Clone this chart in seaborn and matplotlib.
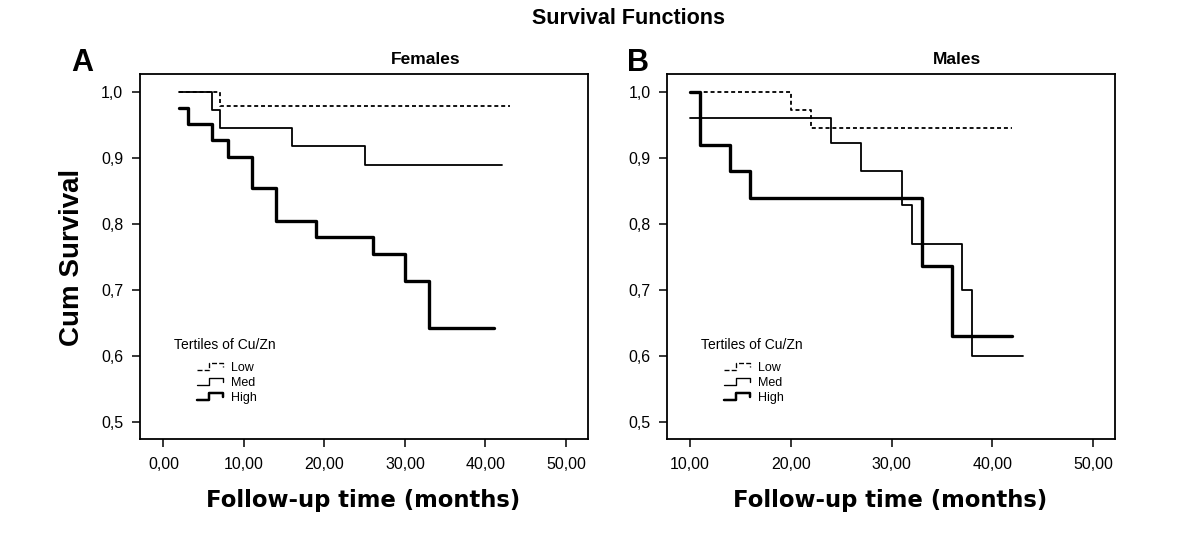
import matplotlib
matplotlib.use("Agg")
import matplotlib.pyplot as plt
import seaborn as sns
import pandas as pd
from matplotlib.lines import Line2D
from matplotlib.legend_handler import HandlerBase

# ---------------- data ----------------
groups = ["Low", "Med", "High"]

f_low_t = [2, 7, 43]
f_low_s = [1.0, 0.979, 0.979]
f_med_t = [2, 6, 7, 16, 25, 42]
f_med_s = [1.0, 0.973, 0.945, 0.918, 0.890, 0.890]
f_high_t = [2, 3, 6, 8, 11, 14, 19, 26, 30, 33, 41]
f_high_s = [0.975, 0.952, 0.927, 0.902, 0.854, 0.805, 0.781, 0.754, 0.713, 0.642, 0.642]

m_low_t = [10, 20, 22, 42]
m_low_s = [1.0, 0.973, 0.945, 0.945]
m_med_t = [10, 24, 27, 31, 32, 37, 38, 43]
m_med_s = [0.96, 0.923, 0.881, 0.829, 0.770, 0.700, 0.600, 0.600]
m_high_t = [10, 11, 14, 16, 33, 36, 42]
m_high_s = [1.0, 0.92, 0.88, 0.84, 0.736, 0.63, 0.63]

f_xticks = [0, 10, 20, 30, 40, 50]
f_xticklabels = ["0,00", "10,00", "20,00", "30,00", "40,00", "50,00"]
m_xticks = [10, 20, 30, 40, 50]
m_xticklabels = ["10,00", "20,00", "30,00", "40,00", "50,00"]
yticks = [0.5, 0.6, 0.7, 0.8, 0.9, 1.0]
yticklabels = ["0,5", "0,6", "0,7", "0,8", "0,9", "1,0"]

# ---------------- style ----------------
sns.set_theme(style="white")
plt.rcParams["font.family"] = ["Liberation Sans", "DejaVu Sans"]
plt.rcParams["text.color"] = "black"
plt.rcParams["axes.labelcolor"] = "black"
plt.rcParams["xtick.color"] = "black"
plt.rcParams["ytick.color"] = "black"
plt.rcParams["legend.labelcolor"] = "black"

styles = {
    "Low": dict(lw=1.3, ls=(0, (2.2, 1.6))),
    "Med": dict(lw=1.3, ls="-"),
    "High": dict(lw=2.4, ls="-"),
}


def make_df(ts, ss, name):
    return pd.DataFrame({"time": ts, "surv": ss, "group": name})


class StepHandler(HandlerBase):
    def create_artists(self, legend, orig_handle, xdescent, ydescent,
                       width, height, fontsize, trans):
        x0 = -xdescent
        y0 = -ydescent
        xs = [x0, x0 + 0.45 * width, x0 + 0.45 * width, x0 + width, x0 + width]
        ys = [y0 + 0.05 * height, y0 + 0.05 * height, y0 + 0.95 * height,
              y0 + 0.95 * height, y0 + 0.45 * height]
        ln = Line2D(xs, ys, color="black",
                    lw=orig_handle.get_linewidth() * 0.75,
                    ls=orig_handle.get_linestyle(), transform=trans)
        return [ln]


fig = plt.figure(figsize=(12, 5.42), dpi=100)
axL = fig.add_axes([0.1167, 0.1895, 0.3731, 0.6734])
axR = fig.add_axes([0.5561, 0.1895, 0.3733, 0.6734])

panels = [
    (axL, [(f_low_t, f_low_s), (f_med_t, f_med_s), (f_high_t, f_high_s)],
     (-2.9, 52.7), f_xticks, f_xticklabels, "Females", 426),
    (axR, [(m_low_t, m_low_s), (m_med_t, m_med_s), (m_high_t, m_high_s)],
     (7.75, 52.2), m_xticks, m_xticklabels, "Males", 957),
]

for ax, series, xlim, xt, xtl, title, tx in panels:
    for g, (ts, ss) in zip(groups, series):
        df = make_df(ts, ss, g)
        sns.lineplot(data=df, x="time", y="surv", ax=ax, estimator=None,
                     drawstyle="steps-post", color="black",
                     linewidth=styles[g]["lw"], linestyle=styles[g]["ls"],
                     legend=False)
    ax.set_xlim(*xlim)
    ax.set_ylim(0.4738, 1.0268)
    ax.set_xticks(xt)
    ax.set_xticklabels(xtl)
    ax.set_yticks(yticks)
    ax.set_yticklabels(yticklabels)
    ax.set_xlabel("")
    ax.set_ylabel("")
    for sp in ax.spines.values():
        sp.set_visible(True)
        sp.set_color("black")
        sp.set_linewidth(1.3)
    ax.tick_params(axis="both", direction="out", length=6, width=1.1,
                   colors="black", labelsize=11.5, left=True, bottom=True)
    ax.tick_params(axis="x", pad=7)
    ax.tick_params(axis="y", pad=6)
    fig.text(tx / 1200, 1 - 59 / 542, title, ha="center", va="center",
             fontsize=12.5, fontweight="bold")

    handles = [Line2D([], [], color="black", lw=styles[g]["lw"],
                      ls=styles[g]["ls"]) for g in groups]
    ax.legend(handles, groups, loc="upper left",
              bbox_to_anchor=(0.127, 0.211), frameon=False,
              fontsize=9, handlelength=2.1, handleheight=0.6,
              handletextpad=0.6, labelspacing=0.22, borderpad=0,
              borderaxespad=0,
              handler_map={Line2D: StepHandler()})
    ax.text(0.075, 0.257, "Tertiles of Cu/Zn", transform=ax.transAxes,
            ha="left", va="center", fontsize=10)

# panel letters & titles
fig.text(628 / 1200, 1 - 18 / 542, "Survival Functions", ha="center",
         va="center", fontsize=15.5, fontweight="bold")
fig.text(82 / 1200, 1 - 63 / 542, "A", ha="center", va="center",
         fontsize=22, fontweight="bold")
fig.text(638 / 1200, 1 - 63 / 542, "B", ha="center", va="center",
         fontsize=22, fontweight="bold")
fig.text(72 / 1200, 1 - 257 / 542, "Cum Survival", ha="center",
         va="center", rotation=90, fontsize=20, fontweight="bold")
for cx in (363, 890):
    fig.text(cx / 1200, 1 - 500 / 542, "Follow-up time (months)",
             ha="center", va="center", fontsize=16.4, fontweight="bold",
             family="DejaVu Sans")

fig.savefig("out.png", dpi=100, facecolor="white")
